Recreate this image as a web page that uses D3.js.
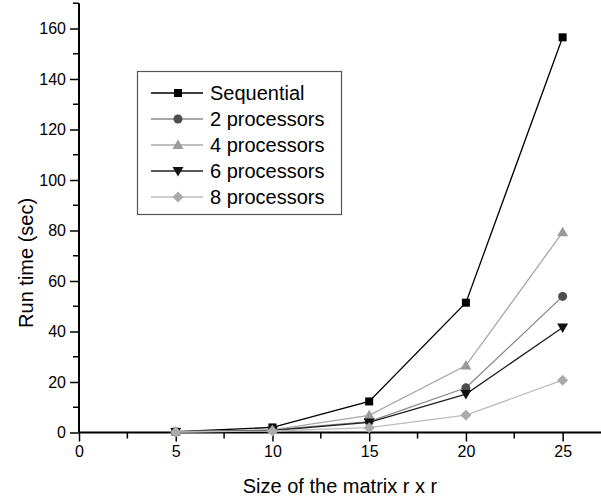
<!DOCTYPE html>
<html><head><meta charset="utf-8">
<script src="https://cdn.jsdelivr.net/npm/d3@7/dist/d3.min.js"></script>
<style>body{margin:0;background:#fff}svg{display:block}text{font-family:"Liberation Sans",Arial,sans-serif}</style>
</head><body>
<script>
const sizes = [5, 10, 15, 20, 25];
const seriesNames = ["Sequential", "2 processors", "4 processors", "6 processors", "8 processors"];
const sequential = [0.3, 2.0, 12.3, 51.4, 156.5];
const proc2 = [0.2, 1.0, 4.3, 17.7, 53.9];
const proc4 = [0.3, 1.0, 6.8, 26.5, 79.3];
const proc6 = [0.2, 0.8, 4.0, 15.2, 41.6];
const proc8 = [0.2, 0.6, 1.9, 6.9, 20.7];
const xTicks = [0, 5, 10, 15, 20, 25];
const yTicks = [0, 20, 40, 60, 80, 100, 120, 140, 160];

const W = 601, H = 499;
const svg = d3.select("body").append("svg").attr("width", W).attr("height", H);

const x = d3.scaleLinear().domain([0, 27.5]).range([79, 611]);
const y = d3.scaleLinear().domain([0, 170]).range([432.5, 3.25]);

// axes
const xMinor = d3.range(0, 27.6, 2.5).filter(v => v % 5 !== 0);
const yMinor = d3.range(10, 171, 20);

const gx = svg.append("g").attr("transform", `translate(0,${y(0)})`);
gx.call(d3.axisBottom(x).tickValues(xTicks).tickSize(9).tickPadding(4).tickFormat(d3.format("d")));
gx.call(g => g.selectAll(".minor").data(xMinor).join("line").attr("class","minor")
  .attr("x1", d => x(d)).attr("x2", d => x(d)).attr("y1", 0).attr("y2", 6).attr("stroke","#000").attr("stroke-width",1.5));
gx.select(".domain").attr("d", `M${x(0)},0H${W}`).attr("stroke-width", 2);

const gy = svg.append("g").attr("transform", `translate(${x(0)},0)`);
gy.call(d3.axisLeft(y).tickValues(yTicks).tickSize(9).tickPadding(4).tickFormat(d3.format("d")));
gy.call(g => g.selectAll(".minor").data(yMinor).join("line").attr("class","minor")
  .attr("y1", d => y(d)).attr("y2", d => y(d)).attr("x1", 0).attr("x2", -6).attr("stroke","#000").attr("stroke-width",1.5));
gy.select(".domain").attr("d", `M0,${y(0)}V${y(170)}`).attr("stroke-width", 2);

svg.selectAll(".tick line").attr("stroke-width", 1.5);
svg.selectAll(".tick text").attr("font-size", 16).attr("fill", "#000")
  .attr("font-family", '"Liberation Sans",Arial,sans-serif');

svg.append("text").attr("x", 340).attr("y", 493).attr("text-anchor","middle")
  .attr("font-size", 20).text("Size of the matrix r x r");
svg.append("text").attr("transform", `translate(33,${(y(0)+y(170))/2 + 45}) rotate(-90)`)
  .attr("text-anchor","middle").attr("font-size", 20).text("Run time (sec)");

const series = [
  {name: seriesNames[0], values: sequential, line: "#000", fill: "#000", shape: "square"},
  {name: seriesNames[1], values: proc2, line: "#8a8a8a", fill: "#4d4d4d", shape: "circle"},
  {name: seriesNames[2], values: proc4, line: "#a8a8a8", fill: "#9a9a9a", shape: "up"},
  {name: seriesNames[3], values: proc6, line: "#222", fill: "#111", shape: "down"},
  {name: seriesNames[4], values: proc8, line: "#bdbdbd", fill: "#ababab", shape: "diamond"}
];

function marker(g, shape, fill) {
  if (shape === "square") g.append("rect").attr("x",-4).attr("y",-4).attr("width",8).attr("height",8).attr("fill",fill);
  else if (shape === "circle") g.append("circle").attr("r",4.5).attr("fill",fill);
  else if (shape === "up") g.append("path").attr("d","M0,-5.5L5.5,4L-5.5,4Z").attr("fill",fill);
  else if (shape === "down") g.append("path").attr("d","M0,5.5L5.5,-4L-5.5,-4Z").attr("fill",fill);
  else g.append("path").attr("d","M0,-5.5L5.5,0L0,5.5L-5.5,0Z").attr("fill",fill);
}

const line = d3.line().x((d,i) => x(sizes[i])).y(d => y(d));
series.forEach(s => {
  svg.append("path").attr("d", line(s.values)).attr("fill","none").attr("stroke", s.line).attr("stroke-width", 1.3);
  s.values.forEach((v,i) => {
    const g = svg.append("g").attr("transform", `translate(${x(sizes[i])},${y(v)})`);
    marker(g, s.shape, s.fill);
  });
});

// legend
const lg = svg.append("g");
lg.append("rect").attr("x",137.5).attr("y",71.5).attr("width",204).attr("height",143)
  .attr("fill","#fff").attr("stroke","#555").attr("stroke-width",1.2);
series.forEach((s,i) => {
  const yy = 93 + i*26;
  lg.append("line").attr("x1",151).attr("x2",203).attr("y1",yy).attr("y2",yy).attr("stroke",s.line).attr("stroke-width",1.3);
  const g = lg.append("g").attr("transform", `translate(178,${yy})`);
  marker(g, s.shape, s.fill);
  lg.append("text").attr("x",210).attr("y",yy+7).attr("font-size",20).text(s.name);
});
</script>
</body></html>
